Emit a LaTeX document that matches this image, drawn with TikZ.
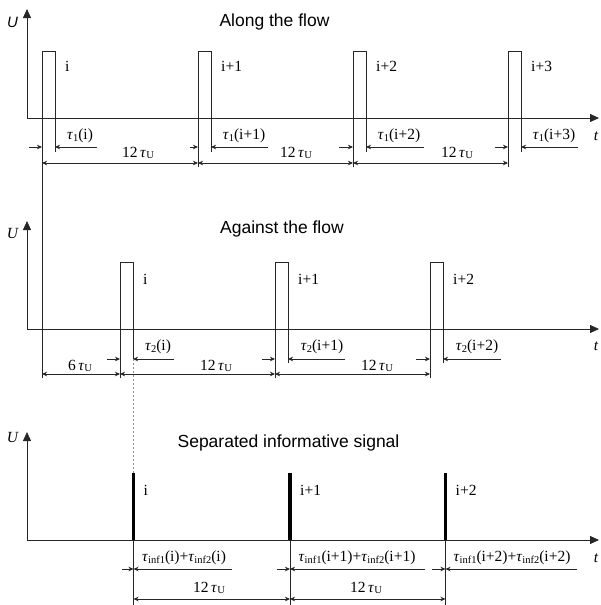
\documentclass[tikz,border=0pt]{standalone}
\usepackage{fontspec}
\setmainfont{Liberation Serif}
\newfontfamily\ttlfont{Liberation Sans}
\usetikzlibrary{arrows.meta}
\newcommand\lo[1]{\raisebox{-0.25ex}{\fontsize{10.5}{12}\selectfont #1}}
\newcommand\tu{\textit{τ}}
\newcommand\tauU{\tu\lo{U}}
\begin{document}
\begin{tikzpicture}[x=1pt,y=-1pt,
  ln/.style={line width=0.8pt, draw=black!85},
  axisln/.style={ln,-{Triangle[length=9pt,width=8pt]}},
  dimarr/.style={line width=0.7pt, draw=black!85,-{Stealth[length=5pt,width=4.5pt,inset=1.5pt]}},
  dimdbl/.style={line width=0.7pt, draw=black!85,{Stealth[length=5pt,width=4.5pt,inset=1.5pt]}-{Stealth[length=5pt,width=4.5pt,inset=1.5pt]}},
  lbl/.style={inner sep=0pt, font=\fontsize{15.5}{18}\selectfont},
  ttl/.style={inner sep=0pt, font=\ttlfont\fontsize{17.5}{20}\selectfont, anchor=base},
  bar/.style={line width=3.5pt, draw=black},
  guide/.style={line width=0.6pt, draw=black!45, dash pattern=on 2pt off 2pt}
  ]
\useasboundingbox (0,0) rectangle (600,605);

% ---------------- Panel 1 : Along the flow ----------------
\coordinate (o1) at (27,118);
\coordinate (u1) at (27,9);
\coordinate (t1) at (599,118);
\draw[axisln] (o1) -- (u1);
\draw[axisln] (o1) -- (t1);
\node[inner sep=0pt, font=\ttlfont\itshape\fontsize{15}{18}\selectfont] (U1) at (12.5,22.5) {U};
\node[lbl, font=\itshape\fontsize{15.5}{18}\selectfont] (tl1) at (596,136) {t};
\node[ttl] (title1) at (274.5,27) {Along the flow};

\foreach \x/\n/\a/\b/\c/\e [count=\k] in
  {42/i/29/97/80/378, 198/i+1/190/268/244/167, 353/i+2/339/424/399/167, 508/i+3/495/578/554/167} {
  \coordinate (p1l\k) at (\x,147);
  \coordinate (p1r\k) at (\x+13,147);
  \coordinate (p1d\k) at (\x,163);
  \draw[ln] (\x,\e) -- (\x,51) -- (\x+13,51) -- (\x+13,152);
  \node[lbl, anchor=west] (p1n\k) at (\x+23,66) {\n};
  \draw[dimarr] (\a,147) -- (p1l\k);
  \draw[dimarr] (\b,147) -- (p1r\k);
  \node[lbl] (p1tau\k) at (\c,136) {\tu\lo{1}(\n)};
}
\draw[dimdbl] (p1d1) -- (p1d2);
\draw[dimdbl] (p1d2) -- (p1d3);
\draw[dimdbl] (p1d3) -- (p1d4);
\node[lbl] (p1T1) at (138,153) {12\,\tauU};
\node[lbl] (p1T2) at (296,153) {12\,\tauU};
\node[lbl] (p1T3) at (457,153) {12\,\tauU};

% ---------------- Panel 2 : Against the flow ----------------
\coordinate (o2) at (27,329);
\coordinate (u2) at (27,221);
\coordinate (t2) at (599,329);
\draw[axisln] (o2) -- (u2);
\draw[axisln] (o2) -- (t2);
\node[lbl, font=\itshape\fontsize{15.5}{18}\selectfont] (U2) at (12.5,233) {U};
\node[lbl, font=\itshape\fontsize{15.5}{18}\selectfont] (tl2) at (596,346) {t};
\node[ttl] (title2) at (282,233) {Against the flow};

\foreach \x/\n/\a/\b/\c/\e [count=\k] in
  {120/i/107/174/158/359, 275/i+1/262/345/322/363, 430/i+2/416/501/477/363} {
  \coordinate (p2l\k) at (\x,359);
  \coordinate (p2r\k) at (\x+13,359);
  \coordinate (p2d\k) at (\x,374);
  \draw[ln] (\x,378) -- (\x,262) -- (\x+13,262) -- (\x+13,\e);
  \node[lbl, anchor=west] (p2n\k) at (\x+23,279) {\n};
  \draw[dimarr] (\a,359) -- (p2l\k);
  \draw[dimarr] (\b,359) -- (p2r\k);
  \node[lbl] (p2tau\k) at (\c,347) {\tu\lo{2}(\n)};
}
\coordinate (s0) at (42,374);
\draw[dimdbl] (s0) -- (p2d1);
\draw[dimdbl] (p2d1) -- (p2d2);
\draw[dimdbl] (p2d2) -- (p2d3);
\node[lbl] (p2T0) at (80,366) {6\,\tauU};
\node[lbl] (p2T1) at (216,366) {12\,\tauU};
\node[lbl] (p2T2) at (377,366) {12\,\tauU};

% ---------------- Panel 3 : Separated informative signal ----------------
\coordinate (o3) at (27,540);
\coordinate (u3) at (27,432);
\coordinate (t3) at (599,540);
\draw[axisln] (o3) -- (u3);
\draw[axisln] (o3) -- (t3);
\node[lbl, font=\itshape\fontsize{15.5}{18}\selectfont] (U3) at (12.5,437) {U};
\node[lbl, font=\itshape\fontsize{15.5}{18}\selectfont] (tl3) at (596,558) {t};
\node[ttl] (title3) at (288.5,447) {Separated informative signal};

\coordinate (gA) at (133,359);
\coordinate (gB) at (133,473);
\draw[guide] (gA) -- (gB);

\foreach \x/\n/\a/\b/\c [count=\k] in
  {133.5/i/122/232/184, 290/i+1/277/425/357, 445.5/i+2/432/577/512} {
  \coordinate (p3l\k) at (\x,569);
  \coordinate (p3d\k) at (\x,599);
  \draw[ln] (\x,540) -- (\x,605);
  \draw[bar] (\x,473) -- (\x,540);
  \node[lbl, anchor=west] (p3n\k) at (\x+10,490) {\n};
  \draw[dimarr] (\a,569) -- (p3l\k);
  \draw[dimarr] (\b,569) -- (p3l\k);
  \node[lbl] (p3tau\k) at (\c,558) {\tu\lo{inf1}(\n)+\tu\lo{inf2}(\n)};
}
\draw[dimdbl] (p3d1) -- (p3d2);
\draw[dimdbl] (p3d2) -- (p3d3);
\node[lbl] (p3T1) at (209,588) {12\,\tauU};
\node[lbl] (p3T2) at (366,588) {12\,\tauU};
\end{tikzpicture}
\end{document}
